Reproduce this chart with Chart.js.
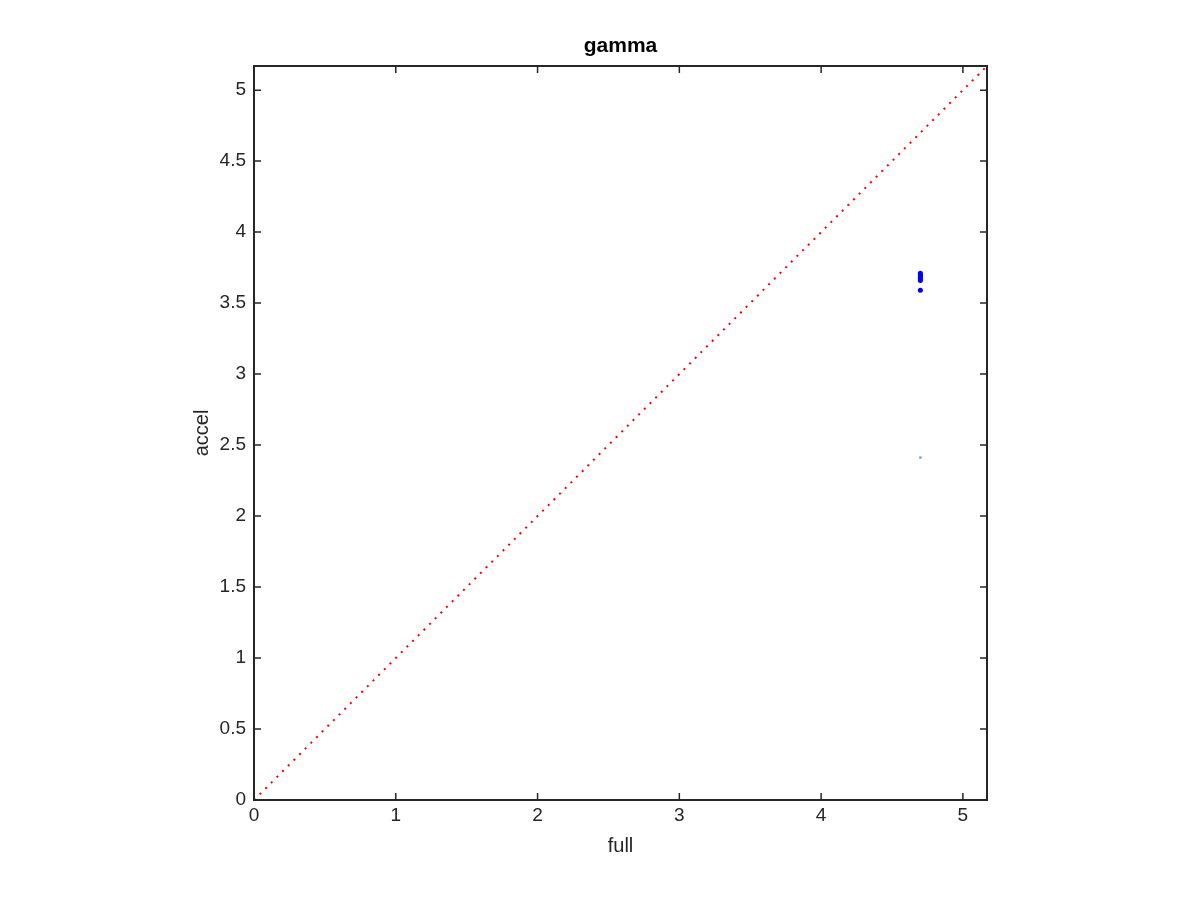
<!DOCTYPE html>
<html>
<head>
<meta charset="utf-8">
<script src="https://cdn.jsdelivr.net/npm/chart.js@4/dist/chart.umd.min.js"></script>
<style>
html,body{margin:0;padding:0;background:#fff;}
#wrap{width:1200px;height:900px;}
</style>
</head>
<body>
<div id="wrap"><canvas id="c" width="1200" height="900"></canvas></div>
<script>
const titleText = "gamma";
const xLabel = "full";
const yLabel = "accel";
const axisMax = 5.17;
const xTicks = [0, 1, 2, 3, 4, 5];
const yTicks = [0, 0.5, 1, 1.5, 2, 2.5, 3, 3.5, 4, 4.5, 5];
const blueX = [4.70, 4.70, 4.70, 4.70, 4.70, 4.70, 4.70];
const blueY = [3.71, 3.70, 3.69, 3.68, 3.67, 3.66, 3.59];
const cyanX = [4.70];
const cyanY = [2.413];
const diagX = [0, 5.17];
const diagY = [0, 5.17];

const FONT = "'Liberation Sans', Arial, Helvetica, sans-serif";
const AXIS = '#262626';

const boxPlugin = {
  id: 'box',
  afterDatasetsDraw(chart) {
    const {ctx, chartArea: a, scales: {x, y}} = chart;
    ctx.save();
    ctx.strokeStyle = AXIS;
    ctx.lineWidth = 2;
    ctx.strokeRect(a.left, a.top, a.right - a.left, a.bottom - a.top);
    const tl = 7;
    ctx.lineWidth = 1.5;
    ctx.beginPath();
    xTicks.forEach(v => {
      const px = x.getPixelForValue(v);
      ctx.moveTo(px, a.bottom); ctx.lineTo(px, a.bottom - tl);
      ctx.moveTo(px, a.top); ctx.lineTo(px, a.top + tl);
    });
    yTicks.forEach(v => {
      const py = y.getPixelForValue(v);
      ctx.moveTo(a.left, py); ctx.lineTo(a.left + tl, py);
      ctx.moveTo(a.right, py); ctx.lineTo(a.right - tl, py);
    });
    ctx.stroke();
    ctx.fillStyle = '#000';
    ctx.font = "bold 21px " + FONT;
    ctx.textAlign = 'center';
    ctx.textBaseline = 'middle';
    ctx.fillText(titleText, (a.left + a.right) / 2, 46);
    ctx.restore();
  }
};

const toPts = (xs, ys) => xs.map((v, i) => ({x: v, y: ys[i]}));

new Chart(document.getElementById('c'), {
  type: 'scatter',
  data: {
    datasets: [
      {
        type: 'line',
        data: toPts(diagX, diagY),
        borderColor: '#ff0000',
        borderWidth: 2,
        borderDash: [2, 6],
        pointRadius: 0,
        fill: false,
        order: 3
      },
      {
        data: toPts(cyanX, cyanY),
        backgroundColor: '#80b3e0',
        borderColor: '#80b3e0',
        pointRadius: 1.5,
        borderWidth: 0,
        order: 2
      },
      {
        data: toPts(blueX, blueY),
        backgroundColor: '#0000ee',
        borderColor: '#0000ee',
        pointRadius: 2.5,
        borderWidth: 0,
        order: 1
      }
    ]
  },
  options: {
    responsive: false,
    animation: false,
    events: [],
    layout: {padding: {left: 190, top: 66, right: 213, bottom: 0}},
    plugins: {legend: {display: false}, tooltip: {enabled: false}, title: {display: false}},
    scales: {
      x: {
        type: 'linear',
        min: 0, max: axisMax,
        afterFit(s) { s.height = 100; },
        afterBuildTicks(s) { s.ticks = xTicks.map(v => ({value: v})); },
        grid: {display: false, drawTicks: false},
        border: {display: false},
        ticks: {color: AXIS, font: {family: FONT, size: 19}, padding: 4, maxRotation: 0,
                callback: v => String(v)},
        title: {display: true, text: xLabel, color: AXIS, font: {family: FONT, size: 20}, padding: {top: 0, bottom: 42}}
      },
      y: {
        type: 'linear',
        min: 0, max: axisMax,
        afterFit(s) { s.width = 64; },
        afterBuildTicks(s) { s.ticks = yTicks.map(v => ({value: v})); },
        grid: {display: false, drawTicks: false},
        border: {display: false},
        ticks: {color: AXIS, font: {family: FONT, size: 19}, padding: 8,
                callback: v => String(v)},
        title: {display: true, text: yLabel, color: AXIS, font: {family: FONT, size: 20}, padding: {top: 0, bottom: 0}}
      }
    }
  },
  plugins: [boxPlugin]
});
</script>
</body>
</html>
